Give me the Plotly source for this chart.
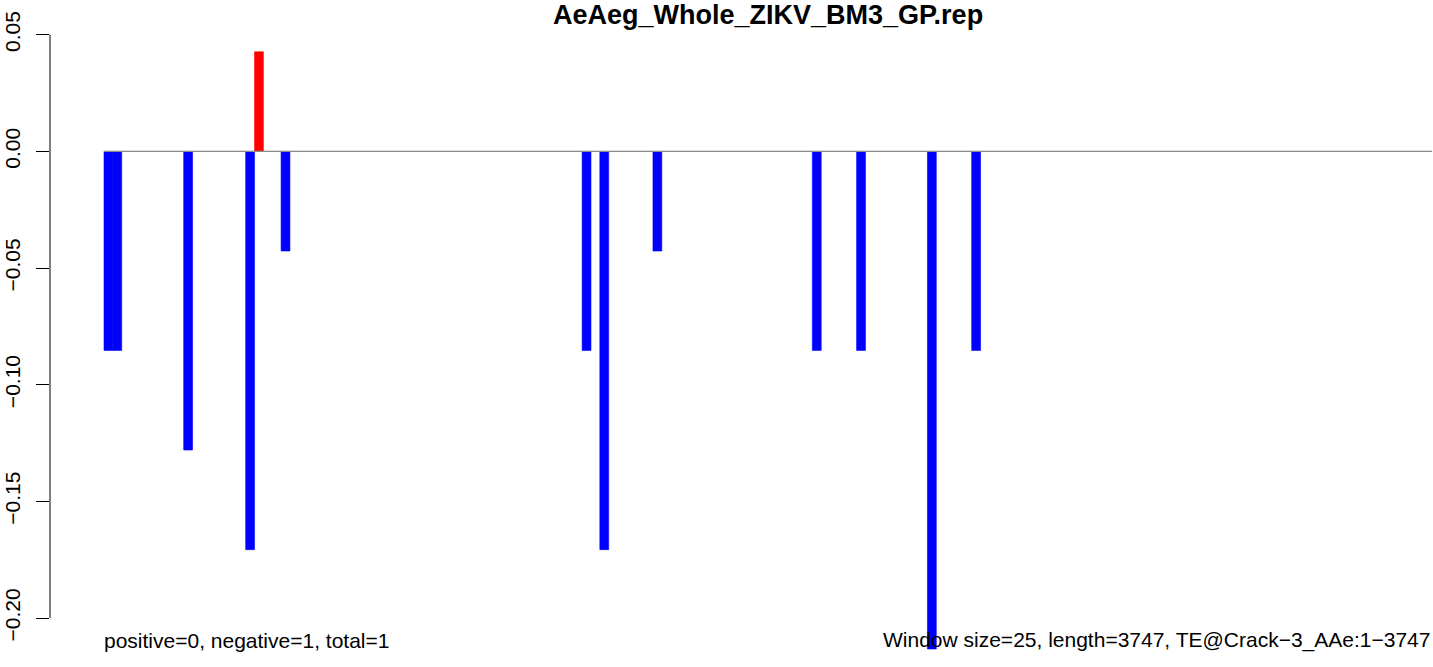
import plotly.graph_objects as go

# ---- data ----
title_text = "AeAeg_Whole_ZIKV_BM3_GP.rep"
window_size = 25
seq_length = 3747
n_bins = 150  # ceil(3747/25)

bin_index = [0, 1, 9, 16, 17, 20, 54, 56, 62, 80, 85, 93, 98]
bin_value = [-0.0853, -0.0853, -0.1280, -0.1707, 0.0427, -0.0427,
             -0.0853, -0.1707, -0.0427, -0.0853, -0.0853, -0.2133, -0.0853]

y_tick_vals = [0.05, 0.00, -0.05, -0.10, -0.15, -0.20]
y_tick_text = ["0.05", "0.00", "\u22120.05", "\u22120.10", "\u22120.15", "\u22120.20"]

left_note = "positive=0, negative=1, total=1"
right_note = "Window size=25, length=3747, TE@Crack\u22123_AAe:1\u22123747"

# ---- figure ----
font_family = "Liberation Sans, Arial, Helvetica, sans-serif"
colors = ["#FF0000" if v > 0 else "#0000FF" for v in bin_value]

fig = go.Figure()
fig.add_trace(go.Scatter(
    x=[0, n_bins], y=[0, 0], mode="lines",
    line=dict(color="#8c8c8c", width=1.3), hoverinfo="skip", showlegend=False))
fig.add_trace(go.Bar(
    x=[i + 0.5 for i in bin_index], y=bin_value, width=1.0,
    marker=dict(color=colors, line=dict(width=0.6, color=colors)), showlegend=False))

fig.update_layout(
    width=1433, height=667,
    margin=dict(l=50, r=0, t=28, b=0, pad=0),
    paper_bgcolor="white", plot_bgcolor="white",
    font=dict(family=font_family, color="black", size=21),
    showlegend=False,
    xaxis=dict(range=[-6.1, 150.1], visible=False, showgrid=False, zeroline=False),
    yaxis=dict(range=[-0.2210, 0.0529], tickvals=y_tick_vals, ticktext=y_tick_text,
               tickangle=-90, ticks="outside", ticklen=13, tickwidth=1, tickcolor="black",
               showline=False, showgrid=False, zeroline=False,
               tickfont=dict(size=21, family=font_family, color="black"),
               ticklabelstandoff=8),
)

# y-axis line spanning the tick range (R style)
fig.add_shape(type="line", xref="paper", yref="y", x0=0, x1=0,
              y0=max(y_tick_vals), y1=min(y_tick_vals),
              line=dict(color="black", width=1))

# title centered over the data region
fig.add_annotation(text="<b>" + title_text + "</b>", xref="x", yref="paper",
                   x=n_bins / 2, y=1, xanchor="center", yanchor="bottom", yshift=-4,
                   showarrow=False, font=dict(size=27, family=font_family, color="black"))

fig.add_annotation(text=left_note, xref="x", yref="paper", x=0, y=0.042,
                   xanchor="left", yanchor="middle", showarrow=False, xshift=-2,
                   font=dict(size=21, family=font_family, color="black"))
fig.add_annotation(text=right_note, xref="x", yref="paper", x=n_bins, y=0.042,
                   xanchor="right", yanchor="middle", showarrow=False,
                   font=dict(size=21, family=font_family, color="black"))

fig.write_html("out.html", config={"displayModeBar": False},
               post_script="document.body.style.margin='0';document.body.style.overflow='hidden';")
